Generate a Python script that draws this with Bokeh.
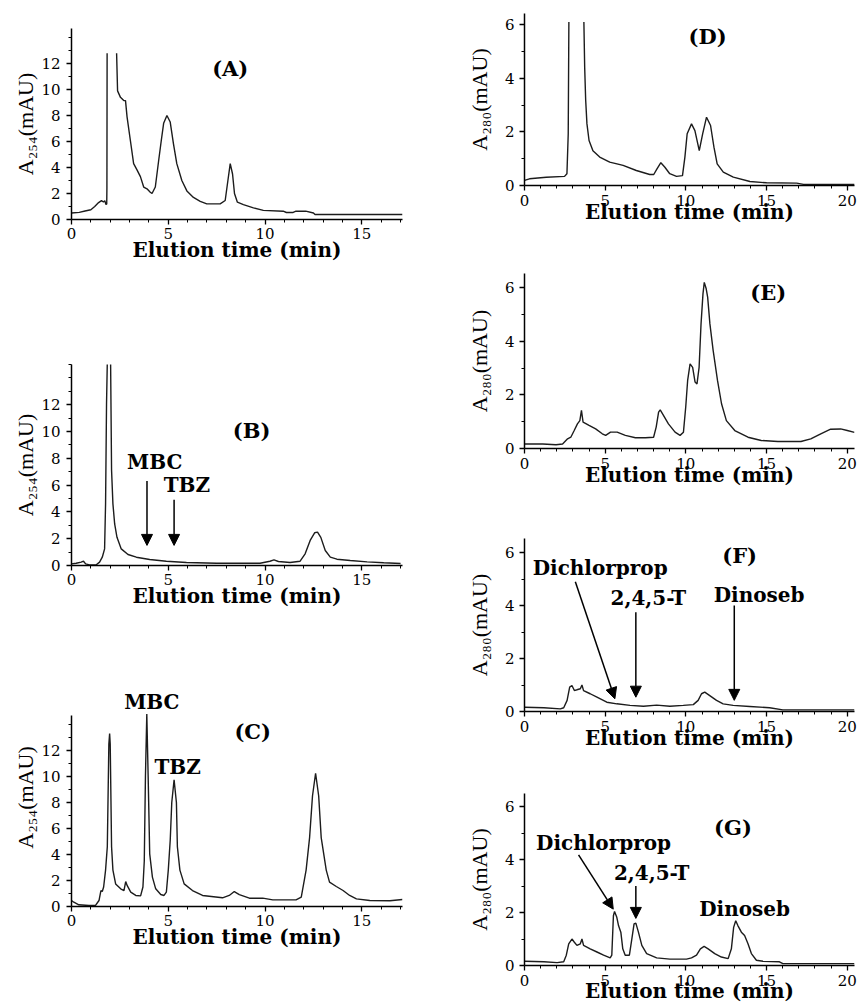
from bokeh.plotting import figure
from bokeh.layouts import row, column
from bokeh.models import FixedTicker, Label, Arrow, NormalHead, Range1d
from bokeh.embed import file_html
from bokeh.resources import INLINE

nan = float("nan")

# ---------------- data (elution time in min, absorbance in mAU) ----------------
a_time = [0.0, 0.4, 0.7, 1.0, 1.2, 1.4, 1.55, 1.65, 1.72, 1.78, 1.82, 1.83, 1.84, nan, 2.33, 2.38, 2.53, 2.7, 2.79,
          2.87, 3.04, 3.21, 3.39, 3.56, 3.73, 3.9, 4.07, 4.16, 4.33, 4.5, 4.64, 4.76, 4.93, 5.1, 5.27, 5.44, 5.7,
          5.96, 6.3, 6.65, 6.99, 7.68, 7.94, 8.08, 8.2, 8.32, 8.42, 8.57, 8.88, 9.4, 9.91, 10.94, 11.1, 11.45,
          11.6, 12.1, 12.5, 12.58, 17.1]
a_abs = [0.5, 0.55, 0.65, 0.75, 1.0, 1.3, 1.45, 1.35, 1.45, 1.15, 1.2, 2.5, 12.8, nan, 12.8, 9.9, 9.4, 9.15, 9.15,
         7.9, 6.1, 4.3, 3.8, 3.3, 2.5, 2.36, 2.1, 2.0, 2.5, 4.5, 6.1, 7.4, 8.0, 7.5, 5.8, 4.3, 3.0,
         2.2, 1.7, 1.4, 1.2, 1.2, 1.46, 3.0, 4.3, 3.5, 2.0, 1.33, 1.15, 0.9, 0.7, 0.64, 0.54, 0.54,
         0.64, 0.64, 0.5, 0.38, 0.38]

b_time = [0.0, 0.24, 0.5, 0.62, 0.73, 0.93, 1.28, 1.45, 1.59, 1.71, 1.76, 1.81, 1.85, 1.93, 2.02, 2.07, 2.14,
          2.23, 2.35, 2.57, 2.92, 3.35, 4.04, 4.9, 5.94, 7.49, 9.74, 10.25, 10.46, 10.69, 11.29, 11.81, 12.07,
          12.33, 12.56, 12.71, 12.88, 13.11, 13.37, 13.71, 14.4, 15.27, 16.13, 17.0]
b_abs = [0.12, 0.17, 0.25, 0.32, 0.12, 0.05, 0.05, 0.25, 0.62, 1.24, 4.6, 12.1, 15.2, 24.0, 15.2, 7.1, 4.6,
         3.1, 2.1, 1.24, 0.82, 0.62, 0.45, 0.32, 0.22, 0.17, 0.17, 0.32, 0.42, 0.3, 0.22, 0.32, 0.87,
         1.87, 2.44, 2.49, 2.1, 1.12, 0.62, 0.47, 0.37, 0.27, 0.2, 0.15]

c_time = [0.0, 0.12, 0.38, 0.9, 1.24, 1.42, 1.52, 1.59, 1.66, 1.76, 1.85, 1.93, 1.97, 2.0, 2.07, 2.14, 2.28,
          2.54, 2.71, 2.8, 2.88, 3.06, 3.32, 3.57, 3.69, 3.76, 3.82, 3.89, 3.96, 4.04, 4.18, 4.35, 4.61, 4.78,
          4.9, 5.0, 5.1, 5.18, 5.3, 5.42, 5.47, 5.6, 5.82, 6.25, 6.77, 7.8, 8.15, 8.41, 8.67, 9.19, 9.88, 10.4,
          11.6, 11.87, 12.12, 12.3, 12.45, 12.61, 12.77, 12.9, 13.16, 13.33, 13.68, 14.03, 14.37, 14.72, 15.41,
          16.45, 17.1]
c_abs = [0.46, 0.33, 0.13, 0.08, 0.08, 0.46, 1.23, 1.15, 1.5, 2.8, 4.6, 12.5, 13.3, 12.5, 4.6, 2.8, 1.74,
         1.36, 1.23, 1.92, 1.6, 1.1, 0.85, 0.82, 1.5, 3.5, 10.0, 14.8, 10.0, 4.05, 2.26, 1.36, 0.92, 0.85,
         1.1, 2.8, 5.1, 8.0, 9.75, 8.0, 4.6, 2.8, 1.74, 1.23, 0.85, 0.67, 0.85, 1.15, 0.92, 0.64, 0.64, 0.51,
         0.51, 0.72, 2.8, 5.3, 8.5, 10.25, 8.5, 5.3, 2.8, 1.87, 1.54, 1.23, 0.85, 0.59, 0.46,
         0.44, 0.54]

d_time = [0.0, 0.31, 1.35, 2.48, 2.63, 2.71, 2.75, nan, 3.68, 3.73, 3.79, 3.87, 4.0, 4.24, 4.66, 5.28, 6.11,
          6.93, 7.76, 8.01, 8.21, 8.45, 8.7, 9.0, 9.42, 9.79, 9.94, 10.08, 10.35, 10.56, 10.83, 11.04, 11.28,
          11.53, 11.74, 11.94, 12.32, 12.94, 13.97, 15.0, 16.87, 17.29, 20.45]
d_abs = [0.19, 0.25, 0.31, 0.34, 0.44, 1.93, 6.1, nan, 6.1, 4.4, 3.2, 2.3, 1.68, 1.3, 1.06, 0.87, 0.75,
         0.56, 0.41, 0.41, 0.62, 0.85, 0.68, 0.44, 0.34, 0.37, 1.06, 1.93, 2.3, 2.05, 1.3, 1.93, 2.55,
         2.24, 1.43, 0.81, 0.5, 0.31, 0.15, 0.1, 0.09, 0.04, 0.04]

e_time = [0.0, 1.13, 1.95, 2.36, 2.67, 2.87, 3.08, 3.28, 3.43, 3.53, 3.63, 4.0, 4.41, 4.82, 5.03, 5.33, 5.74,
          6.25, 6.87, 7.49, 8.0, 8.16, 8.31, 8.41, 8.62, 8.92, 9.33, 9.64, 9.85, 9.99, 10.11, 10.26, 10.42,
          10.57, 10.69, 10.82, 10.94, 11.06, 11.14, 11.26, 11.35, 11.49, 11.69, 11.96, 12.21, 12.51, 13.03,
          13.85, 14.67, 15.7, 17.13, 17.74, 18.36, 18.97, 19.59, 20.0, 20.45]
e_abs = [0.17, 0.17, 0.14, 0.17, 0.36, 0.42, 0.67, 0.92, 1.04, 1.42, 0.98, 0.86, 0.73, 0.55, 0.49, 0.61, 0.61,
         0.49, 0.4, 0.4, 0.42, 0.8, 1.36, 1.44, 1.23, 0.92, 0.61, 0.49, 0.61, 1.54, 2.54, 3.16, 3.03,
         2.48, 2.41, 3.03, 4.65, 5.77, 6.2, 5.96, 5.65, 4.65, 3.66, 2.54, 1.67, 1.04, 0.67,
         0.42, 0.3, 0.26, 0.26, 0.36, 0.55, 0.72, 0.73, 0.67, 0.6]

f_time = [0.0, 1.2, 2.22, 2.43, 2.64, 2.8, 2.94, 3.09, 3.25, 3.46, 3.56, 3.66, 4.07, 4.49, 5.1, 5.72, 6.54,
          7.37, 8.19, 9.01, 9.84, 10.46, 10.76, 10.97, 11.17, 11.48, 11.9, 12.31, 12.93, 13.96, 15.19, 16.01,
          20.45]
f_abs = [0.16, 0.14, 0.1, 0.14, 0.42, 0.92, 0.98, 0.79, 0.82, 0.86, 1.0, 0.79, 0.67, 0.54, 0.35, 0.29, 0.23,
         0.2, 0.24, 0.2, 0.23, 0.26, 0.42, 0.67, 0.73, 0.6, 0.42, 0.29, 0.23, 0.19, 0.14, 0.06,
         0.06]

g_time = [0.0, 1.2, 2.02, 2.43, 2.59, 2.74, 2.94, 3.09, 3.25, 3.46, 3.56, 3.66, 4.07, 4.49, 4.9, 5.31, 5.41,
          5.51, 5.58, 5.72, 5.83, 5.97, 6.09, 6.24, 6.5, 6.65, 6.79, 6.9, 7.06, 7.27, 7.57, 8.19, 9.01, 10.04,
          10.35, 10.66, 10.9, 11.13, 11.38, 11.79, 12.2, 12.62, 12.82, 12.96, 13.09, 13.23, 13.44, 13.64,
          13.85, 14.06, 14.37, 14.78, 15.8, 16.01, 20.45]
g_abs = [0.16, 0.14, 0.11, 0.14, 0.39, 0.82, 1.0, 0.88, 0.76, 0.82, 1.0, 0.76, 0.63, 0.51, 0.39, 0.29, 0.39,
         1.88, 2.04, 1.82, 1.5, 1.26, 0.63, 0.39, 0.39, 1.0, 1.57, 1.6, 1.26, 0.76, 0.45, 0.29, 0.24, 0.24,
         0.29, 0.39, 0.63, 0.72, 0.63, 0.45, 0.32, 0.26, 0.63, 1.44, 1.69, 1.5, 1.26, 1.13,
         0.82, 0.45, 0.2, 0.16, 0.14, 0.07, 0.07]

# retention times of the standards (min)
fungicide_names = ["MBC", "TBZ"]
fungicide_rt = [3.9, 5.3]
herbicide_names = ["Dichlorprop", "2,4,5-T", "Dinoseb"]
herbicide_rt = [5.6, 6.9, 13.0]

# tick labels
left_x_ticks = [0, 5, 10, 15]
right_x_ticks = [0, 5, 10, 15, 20]
left_y_ticks = [0, 2, 4, 6, 8, 10, 12]
right_y_ticks = [0, 2, 4, 6]

XLABEL = "Elution time (min)"
YLABEL_254 = "A\u2082\u2085\u2084(mAU)"
YLABEL_280 = "A\u2082\u2088\u2080(mAU)"

SERIF = "DejaVu Serif"
YFONT = "Liberation Serif"


def panel(time, absorb, width, height, borders, x_end, y_end, x_major, y_major, ylabel,
          xlab_standoff, ylab_standoff, tick_standoff, ytick_standoff, y_bounds=None):
    l, r, t, b = borders
    p = figure(width=width, height=height, x_range=Range1d(0, x_end), y_range=Range1d(0, y_end),
               output_backend="svg", toolbar_location=None,
               min_border_left=l, min_border_right=r, min_border_top=t, min_border_bottom=b)
    p.outline_line_color = None
    p.grid.visible = False
    p.background_fill_color = "white"
    p.border_fill_color = "white"
    p.line(time, absorb, line_color="#1c1c1c", line_width=1.4)

    x_minor = [v for v in range(0, int(x_end) + 1) if v not in x_major]
    top = y_bounds[1] if y_bounds else y_end
    y_minor = [v for v in range(0, int(top) + 1) if v not in y_major]
    p.xaxis.ticker = FixedTicker(ticks=x_major, minor_ticks=x_minor)
    p.yaxis.ticker = FixedTicker(ticks=y_major, minor_ticks=y_minor)
    if y_bounds:
        p.yaxis.bounds = y_bounds

    for ax in (p.xaxis[0], p.yaxis[0]):
        ax.axis_line_color = "black"
        ax.axis_line_width = 1.5
        ax.major_tick_line_color = "black"
        ax.major_tick_line_width = 1.3
        ax.minor_tick_line_color = "black"
        ax.minor_tick_line_width = 1
        ax.major_tick_in = 0
        ax.major_tick_out = 5
        ax.minor_tick_in = 0
        ax.minor_tick_out = 3
        ax.major_label_text_font = SERIF
        ax.major_label_text_font_size = "15px"
        ax.major_label_text_color = "black"
        ax.axis_label_text_color = "black"

    p.xaxis.axis_label = XLABEL
    p.xaxis.axis_label_text_font = SERIF
    p.xaxis.axis_label_text_font_style = "bold"
    p.xaxis.axis_label_text_font_size = "20px"
    p.xaxis.axis_label_standoff = xlab_standoff
    p.xaxis.major_label_standoff = tick_standoff

    p.yaxis.axis_label = ylabel
    p.yaxis.axis_label_text_font = YFONT
    p.yaxis.axis_label_text_font_style = "normal"
    p.yaxis.axis_label_text_font_size = "22px"
    p.yaxis.axis_label_standoff = ylab_standoff
    p.yaxis.major_label_standoff = ytick_standoff
    return p


def label(p, x, y, text, size="20px"):
    p.add_layout(Label(x=x, y=y, text=text, text_align="center", text_baseline="middle",
                       text_font=SERIF, text_font_style="bold", text_font_size=size,
                       text_color="black"))


def arrow(p, x0, y0, x1, y1):
    p.add_layout(Arrow(end=NormalHead(size=11, fill_color="black", line_color="black"),
                       x_start=x0, y_start=y0, x_end=x1, y_end=y1,
                       line_color="black", line_width=1.5))


# ---------------- left column (A254) ----------------
pA = panel(a_time, a_abs, 433, 300, (67, 31, 28, 81), 17.1, 14.7, left_x_ticks, left_y_ticks,
           YLABEL_254, -4, 0, 3, 6)
label(pA, 8.2, 11.6, "(A)", "21px")

pB = panel(b_time, b_abs, 433, 340, (67, 31, 64, 75), 17.1, 15.0, left_x_ticks, left_y_ticks,
           YLABEL_254, -4, 0, 3, 6)
label(pB, 9.3, 10.1, "(B)", "21px")
label(pB, 4.3, 7.7, fungicide_names[0])
label(pB, 5.96, 6.0, fungicide_names[1])
arrow(pB, fungicide_rt[0], 6.3, fungicide_rt[0], 1.5)
arrow(pB, fungicide_rt[1], 4.9, fungicide_rt[1], 1.5)

pC = panel(c_time, c_abs, 433, 365, (71, 28, 48, 99), 17.1, 16.77, left_x_ticks, left_y_ticks,
           YLABEL_254, -4, 0, 3, 6, y_bounds=(0, 14.7))
label(pC, 9.36, 13.5, "(C)", "21px")
label(pC, 4.15, 15.7, fungicide_names[0])
label(pC, 5.48, 10.7, fungicide_names[1])

# ---------------- right column (A280) ----------------
pD = panel(d_time, d_abs, 428, 240, (91, 7, 13, 55), 20.45, 6.42, right_x_ticks, right_y_ticks,
           YLABEL_280, -9, 10, 4, 5)
label(pD, 11.35, 5.57, "(D)", "21px")

pE = panel(e_time, e_abs, 428, 260, (91, 7, 33, 52), 20.45, 6.53, right_x_ticks, right_y_ticks,
           YLABEL_280, -9, 10, 4, 5)
label(pE, 15.1, 5.83, "(E)", "21px")

pF = panel(f_time, f_abs, 428, 265, (91, 7, 38, 54), 20.45, 6.53, right_x_ticks, right_y_ticks,
           YLABEL_280, -9, 10, 4, 5)
label(pF, 13.33, 5.9, "(F)", "21px")
label(pF, 4.69, 5.4, herbicide_names[0])
label(pF, 7.67, 4.3, herbicide_names[1])
label(pF, 14.54, 4.4, herbicide_names[2])
arrow(pF, 3.15, 4.9, herbicide_rt[0], 0.48)
arrow(pF, herbicide_rt[1], 3.75, herbicide_rt[1], 0.54)
arrow(pF, herbicide_rt[2], 4.0, herbicide_rt[2], 0.42)

pG = panel(g_time, g_abs, 428, 240, (91, 7, 28, 38), 20.45, 6.5, right_x_ticks, right_y_ticks,
           YLABEL_280, -10, 10, 4, 5)
label(pG, 12.92, 5.23, "(G)", "21px")
label(pG, 4.9, 4.64, herbicide_names[0])
label(pG, 7.88, 3.5, herbicide_names[1])
label(pG, 13.64, 2.15, herbicide_names[2])
arrow(pG, 3.35, 4.18, herbicide_rt[0] - 0.1, 2.13)
arrow(pG, herbicide_rt[1], 3.0, herbicide_rt[1], 1.78)

layout = row(column(pA, pB, pC), column(pD, pE, pF, pG))

open("out.html", "w").write(file_html(layout, INLINE))
